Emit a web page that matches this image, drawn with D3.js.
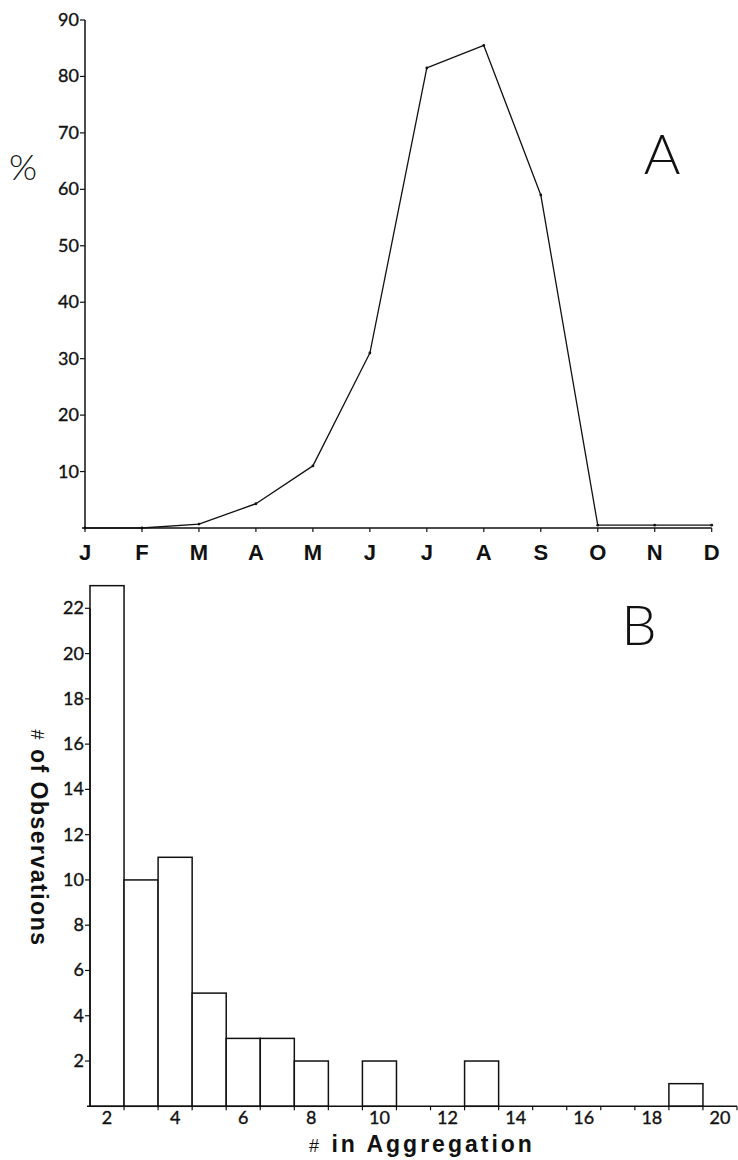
<!DOCTYPE html>
<html>
<head>
<meta charset="utf-8">
<script src="https://cdn.jsdelivr.net/npm/d3@7"></script>
<style>
  html, body { margin: 0; padding: 0; background: #fff; }
  svg { display: block; }
  .tick-num { font-family: Lato, "Noto Sans", sans-serif; font-size: 18px; fill: #111; stroke: #111; stroke-width: 0.35px; }
  .month { font-family: "Liberation Sans", Arial, sans-serif; font-weight: bold; font-size: 22px; fill: #111; }
  .panel { font-family: Lato, "Open Sans", sans-serif; font-weight: 300; font-size: 56px; fill: #111; }
  .title { font-family: "Liberation Sans", Arial, sans-serif; font-weight: bold; font-size: 23px; fill: #111; }
</style>
</head>
<body>
<svg id="chart" width="738" height="1160"></svg>
<script>
// Panel A: monthly percentage
const months = ["J","F","M","A","M","J","J","A","S","O","N","D"];
const monthPct = [0, 0, 0.7, 4.3, 11, 31, 81.5, 85.5, 59, 0.5, 0.5, 0.5];
const pctTicks = [10, 20, 30, 40, 50, 60, 70, 80, 90];

// Panel B: aggregation size histogram
const aggSize = [2, 3, 4, 5, 6, 7, 8, 10, 13, 19];
const aggCount = [23, 10, 11, 5, 3, 3, 2, 2, 2, 1];
const countTicks = [2, 4, 6, 8, 10, 12, 14, 16, 18, 20, 22];
const sizeTicks = [2, 4, 6, 8, 10, 12, 14, 16, 18, 20];
const binEdges = d3.range(2.5, 20.6, 1);

const svg = d3.select("#chart");
const ink = "#111";

// ---------- Panel A ----------
const xA = d3.scaleLinear().domain([0, 11]).range([85, 711.7]);
const yA = d3.scaleLinear().domain([0, 90]).range([528, 20]);
const gA = svg.append("g");

// axes
gA.append("line").attr("x1", xA(0)).attr("x2", xA(0)).attr("y1", yA(0)).attr("y2", yA(90))
  .attr("stroke", ink).attr("stroke-width", 1.5);
gA.append("line").attr("x1", xA(0) - 3).attr("x2", xA(11)).attr("y1", yA(0)).attr("y2", yA(0))
  .attr("stroke", ink).attr("stroke-width", 1.6);

// y ticks
const yAt = gA.selectAll("g.yt").data(pctTicks).join("g").attr("class", "yt");
yAt.append("line").attr("x1", xA(0) - 5).attr("x2", xA(0)).attr("y1", d => yA(d)).attr("y2", d => yA(d))
  .attr("stroke", ink).attr("stroke-width", 1.2);
yAt.append("text").attr("class", "tick-num").attr("x", xA(0) - 6).attr("y", d => yA(d) + 6)
  .attr("text-anchor", "end").text(d => d);

// month ticks and labels
const xAt = gA.selectAll("g.xt").data(months).join("g").attr("class", "xt");
xAt.append("line").attr("x1", (d, i) => xA(i)).attr("x2", (d, i) => xA(i))
  .attr("y1", yA(0)).attr("y2", yA(0) + 4).attr("stroke", ink).attr("stroke-width", 1.2);
xAt.append("text").attr("class", "month").attr("x", (d, i) => xA(i)).attr("y", 560)
  .attr("text-anchor", "middle").text(d => d);

// data line
const lineA = d3.line().x((d, i) => xA(i)).y(d => yA(d));
gA.append("path").datum(monthPct).attr("d", lineA)
  .attr("fill", "none").attr("stroke", ink).attr("stroke-width", 1.3).attr("stroke-linejoin", "round");
gA.selectAll("circle").data(monthPct).join("circle")
  .attr("cx", (d, i) => xA(i)).attr("cy", d => yA(d)).attr("r", 1.4).attr("fill", ink);

gA.append("text").attr("class", "panel").attr("x", 23).attr("y", 180).attr("text-anchor", "middle")
  .style("font-size", "36px").text("%");
gA.append("text").attr("class", "panel").attr("x", 662).attr("y", 174).attr("text-anchor", "middle").text("A");

// ---------- Panel B ----------
const xB = d3.scaleLinear().domain([1.5, 20.5]).range([90, 737]);
const yB = d3.scaleLinear().domain([0, 22]).range([1106.3, 608.3]);
const gB = svg.append("g");

// bars
gB.selectAll("rect").data(aggSize).join("rect")
  .attr("x", d => xB(d - 0.5)).attr("width", d => xB(d + 0.5) - xB(d - 0.5))
  .attr("y", (d, i) => yB(aggCount[i])).attr("height", (d, i) => yB(0) - yB(aggCount[i]))
  .attr("fill", "#fff").attr("stroke", ink).attr("stroke-width", 1.5);

// axes
gB.append("line").attr("x1", xB(1.5)).attr("x2", xB(1.5)).attr("y1", yB(0)).attr("y2", yB(22))
  .attr("stroke", ink).attr("stroke-width", 1.5);
gB.append("line").attr("x1", xB(1.5) - 3).attr("x2", xB(20.5)).attr("y1", yB(0)).attr("y2", yB(0))
  .attr("stroke", ink).attr("stroke-width", 1.6);

const yBt = gB.selectAll("g.yt").data(countTicks).join("g").attr("class", "yt");
yBt.append("line").attr("x1", xB(1.5) - 5).attr("x2", xB(1.5)).attr("y1", d => yB(d)).attr("y2", d => yB(d))
  .attr("stroke", ink).attr("stroke-width", 1.2);
yBt.append("text").attr("class", "tick-num").attr("x", xB(1.5) - 6).attr("y", d => yB(d) + 6)
  .attr("text-anchor", "end").text(d => d);

gB.selectAll("line.edge").data(binEdges).join("line").attr("class", "edge")
  .attr("x1", d => xB(d)).attr("x2", d => xB(d)).attr("y1", yB(0)).attr("y2", yB(0) + 4)
  .attr("stroke", ink).attr("stroke-width", 1.2);
gB.selectAll("text.xl").data(sizeTicks).join("text").attr("class", "tick-num xl")
  .attr("x", d => xB(d)).attr("y", 1124).attr("text-anchor", "middle").text(d => d);

// axis titles
const xt = gB.append("text").attr("class", "title").attr("x", 422).attr("y", 1152)
  .attr("text-anchor", "middle").style("letter-spacing", "3px");
xt.append("tspan").style("font-weight", "normal").style("font-size", "18px").text("#");
xt.append("tspan").text(" in Aggregation");

// vertical title reads top to bottom
const yt = gB.append("text").attr("class", "title").attr("transform", "translate(31,838) rotate(90)")
  .attr("text-anchor", "middle").style("letter-spacing", "1.5px");
yt.append("tspan").style("font-weight", "normal").style("font-size", "18px").text("#");
yt.append("tspan").text(" of Observations");

gB.append("text").attr("class", "panel").attr("x", 639).attr("y", 645).attr("text-anchor", "middle").text("B");
</script>
</body>
</html>
